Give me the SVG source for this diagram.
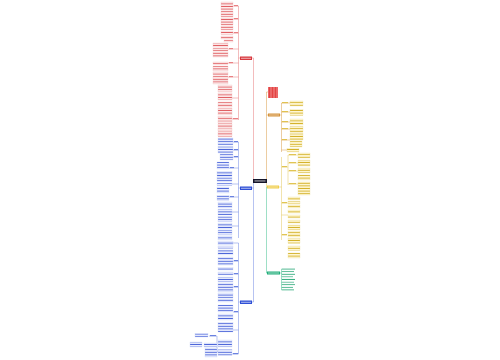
<svg xmlns="http://www.w3.org/2000/svg" width="500" height="360" viewBox="0 0 500 360">
<defs>
<pattern id="pr" width="4" height="2.6" patternUnits="userSpaceOnUse"><rect width="4" height="2.6" fill="#fdeeee"/><rect y="0.8" width="4" height="0.9" fill="#dc4a4f" opacity="0.9"/></pattern>
<pattern id="pb" width="4" height="2.6" patternUnits="userSpaceOnUse"><rect width="4" height="2.6" fill="#eef1ff"/><rect y="0.8" width="4" height="0.9" fill="#3552d4" opacity="0.9"/></pattern>
<pattern id="py" width="4" height="2.6" patternUnits="userSpaceOnUse"><rect width="4" height="2.6" fill="#fff8d6"/><rect y="0.8" width="4" height="0.9" fill="#cfa812" opacity="0.9"/></pattern>
<pattern id="pg" width="4" height="2.6" patternUnits="userSpaceOnUse"><rect width="4" height="2.6" fill="#fff"/><rect y="0.8" width="4" height="0.9" fill="#1fa472" opacity="0.9"/></pattern>
<pattern id="pi" width="3" height="2" patternUnits="userSpaceOnUse"><rect width="3" height="2" fill="#e23b3b"/><rect y="0.7" width="2.2" height="0.6" fill="#ffd0d0"/></pattern>
</defs>
<style>
.r{fill:url(#pr);stroke:#f0bcbe;stroke-width:0.3}
.b{fill:url(#pb);stroke:#c4cef3;stroke-width:0.3}
.y{fill:url(#py);stroke:#ecdc98;stroke-width:0.3}
.g{fill:url(#pg)}
.cr{stroke:#e6787b;stroke-width:0.5;fill:none}
.cb{stroke:#6f86e3;stroke-width:0.5;fill:none}
.cy{stroke:#e2c75a;stroke-width:0.5;fill:none}
.co{stroke:#d99a45;stroke-width:0.5;fill:none}
.cg{stroke:#3cbf8c;stroke-width:0.5;fill:none}
.lr{fill:#e35a5e}
.lb{fill:#3d5ad8}
.ly{fill:#d7b21c}
</style>
<rect width="500" height="360" fill="#fff"/>
<g id="connectors">
<path class="cr" d="M253.5 181V58H252"/>
<path class="cb" d="M253.5 181V302H252M253.5 188H252"/>
<path class="cr" d="M240 58H238.5M238.5 6V120M238.5 6H233M238.5 19H233M238.5 33H233M238.5 49H228M238.5 63H228M238.5 77H228M238.5 98H232M238.5 119H232"/>
<path class="cb" d="M240 188H238.5M238.5 142V238M238.5 142H233M238.5 150H233M238.5 157H233M238.5 168H229M238.5 184H232M238.5 197H229M238.5 212H232M238.5 226H232"/>
<path class="cb" d="M240 302H238.5M238.5 243V354M238.5 243H233M238.5 261H233M238.5 274H233M238.5 287H233M238.5 312H233M238.5 330H233M238.5 354H232M218 352H217M209 336H217V352"/>
<path class="co" d="M266.5 181V92H268M266.5 115H268"/>
<path class="cy" d="M266.5 181V187H267"/>
<path class="cg" d="M266.5 187V273H267"/>
<path class="co" d="M280 115H281.5M281.5 103V152M281.5 103H290M281.5 112H290M281.5 122H290M281.5 129H290M281.5 140H290M281.5 150H287"/>
<path class="cy" d="M279 187H281.5M281.5 157V240M281.5 167H288M288 155H298M288 155V185M288 163H298M288 171H298M288 184H298M281.5 203H288M281.5 235H287M281.5 215H288"/>
<path class="cg" d="M280 273H281.5M281.5 269V290M281.5 269H282M281.5 271.5H282M281.5 274H282M281.5 276.5H282M281.5 279H282M281.5 282.5H282M281.5 285H282M281.5 287.5H282M281.5 290H282"/>
</g>
<g id="root"><rect x="253" y="179" width="14" height="4" fill="#16162a"/><rect x="254.5" y="180.5" width="11" height="0.9" fill="#fff" opacity="0.8"/></g>
<g id="branch-red"><rect x="240" y="56.5" width="12" height="3.5" fill="#d8383e"/><rect x="241" y="57.8" width="10" height="0.9" fill="#fff" opacity="0.7"/></g>
<g id="branch-blue1"><rect x="240" y="186.5" width="12" height="3.5" fill="#2f50d6"/><rect x="241" y="187.8" width="10" height="0.9" fill="#fff" opacity="0.7"/></g>
<g id="branch-blue2"><rect x="240" y="300.5" width="12" height="3.5" fill="#2f50d6"/><rect x="241" y="301.8" width="10" height="0.9" fill="#fff" opacity="0.7"/></g>
<g id="image-node"><rect x="268" y="87" width="10" height="11" fill="url(#pi)"/></g>
<g id="branch-orange"><rect x="268" y="113.5" width="12" height="3" fill="#d4913a"/><rect x="269" y="114.6" width="10" height="0.8" fill="#fff" opacity="0.6"/></g>
<g id="branch-yellow"><rect x="267" y="185.5" width="12" height="3" fill="#f0cd4c"/><rect x="268" y="186.6" width="10" height="0.8" fill="#fff" opacity="0.6"/></g>
<g id="branch-green"><rect x="267" y="271.5" width="13" height="3" fill="#21ad7a"/><rect x="268" y="272.6" width="11" height="0.8" fill="#fff" opacity="0.7"/></g>
<g id="leaves-red">
<rect class="r" x="221" y="2" width="12" height="8"/><rect class="r" x="221" y="11" width="12" height="6"/><rect class="r" x="221" y="18" width="12" height="7"/><rect class="r" x="221" y="26" width="12" height="4"/><rect class="r" x="221" y="31.5" width="12" height="3"/><rect class="r" x="221" y="36" width="12" height="3"/><rect class="r" x="224" y="40" width="9" height="2"/>
<rect class="r" x="213" y="43" width="15" height="4"/><rect class="r" x="213" y="48" width="15" height="3"/><rect class="r" x="213" y="52" width="15" height="5"/><rect class="r" x="213" y="62" width="15" height="2.5"/><rect class="r" x="213" y="66" width="15" height="5"/><rect class="r" x="213" y="72" width="15" height="3"/><rect class="r" x="213" y="76" width="15" height="4.5"/><rect class="r" x="213" y="81" width="15" height="3"/>
<rect class="r" x="218" y="85" width="14" height="7"/><rect class="r" x="218" y="93" width="14" height="7"/><rect class="r" x="218" y="102" width="14" height="5"/><rect class="r" x="218" y="108" width="14" height="7"/><rect class="r" x="218" y="116.5" width="14" height="3"/><rect class="r" x="218" y="120.5" width="14" height="3"/><rect class="r" x="218" y="124.5" width="14" height="3"/><rect class="r" x="218" y="128.5" width="14" height="3"/><rect class="r" x="218" y="132.5" width="14" height="4"/>
<rect class="lr" x="234" y="5.3" width="4" height="0.8"/><rect class="lr" x="234" y="18.3" width="4" height="0.8"/><rect class="lr" x="234" y="32.3" width="4" height="0.8"/><rect class="lr" x="229" y="48.3" width="4" height="0.8"/><rect class="lr" x="229" y="62.3" width="4" height="0.8"/><rect class="lr" x="229" y="76.3" width="4" height="0.8"/><rect class="lr" x="233" y="118.3" width="5" height="0.8"/>
</g>
<g id="leaves-blue">
<rect class="b" x="218" y="138" width="15" height="7"/><rect class="b" x="218" y="146.5" width="15" height="6.5"/><rect class="b" x="220" y="154" width="13" height="6"/><rect class="b" x="217" y="162" width="12" height="7"/><rect class="b" x="217" y="171.5" width="15" height="5"/><rect class="b" x="217" y="177.5" width="15" height="4"/><rect class="b" x="217" y="183" width="15" height="2.5"/><rect class="b" x="217" y="187" width="12" height="6"/><rect class="b" x="217" y="195.5" width="12" height="5"/><rect class="b" x="218" y="202" width="14" height="6"/><rect class="b" x="218" y="209.5" width="14" height="5.5"/><rect class="b" x="218" y="216.5" width="14" height="5.5"/><rect class="b" x="218" y="223.5" width="14" height="5.5"/><rect class="b" x="218" y="230" width="14" height="5"/><rect class="b" x="218" y="236" width="14" height="4"/>
<rect class="b" x="218" y="241.5" width="15" height="3.5"/><rect class="b" x="218" y="246" width="15" height="2.5"/><rect class="b" x="218" y="250" width="15" height="5"/><rect class="b" x="218" y="257" width="15" height="8"/><rect class="b" x="218" y="267.5" width="15" height="2.5"/><rect class="b" x="218" y="272" width="15" height="3"/><rect class="b" x="218" y="277" width="15" height="5"/><rect class="b" x="218" y="283" width="15" height="9"/><rect class="b" x="218" y="293" width="15" height="5"/><rect class="b" x="218" y="299" width="15" height="3"/><rect class="b" x="218" y="305" width="15" height="7"/><rect class="b" x="218" y="314" width="15" height="6"/><rect class="b" x="218" y="322.5" width="15" height="9.5"/><rect class="b" x="218" y="340" width="14" height="7"/><rect class="b" x="218" y="349.5" width="14" height="6"/>
<rect class="b" x="195" y="333.5" width="13" height="3.5"/><rect class="b" x="190" y="342" width="12" height="5"/><rect class="b" x="204" y="343" width="13" height="4"/><rect class="b" x="205" y="348" width="12" height="9"/>
<rect class="lb" x="234" y="141.3" width="4" height="0.8"/><rect class="lb" x="234" y="149.3" width="4" height="0.8"/><rect class="lb" x="234" y="156.3" width="4" height="0.8"/><rect class="lb" x="230" y="167.3" width="4" height="0.8"/><rect class="lb" x="230" y="196.3" width="4" height="0.8"/><rect class="lb" x="234" y="260.3" width="4" height="0.8"/><rect class="lb" x="234" y="273.3" width="4" height="0.8"/><rect class="lb" x="234" y="286.3" width="4" height="0.8"/><rect class="lb" x="234" y="311.3" width="4" height="0.8"/><rect class="lb" x="233" y="353.3" width="5" height="0.8"/><rect class="lb" x="210" y="335.3" width="6" height="0.8"/>
</g>
<g id="leaves-yellow">
<rect class="y" x="290" y="101" width="13" height="5"/><rect class="y" x="290" y="109.5" width="13" height="6"/><rect class="y" x="290" y="119" width="13" height="6"/><rect class="y" x="290" y="126.5" width="13" height="6"/><rect class="y" x="290" y="133.5" width="13" height="6.5"/><rect class="y" x="290" y="141" width="12" height="6"/><rect class="y" x="287" y="148.5" width="12" height="3.5"/>
<rect class="y" x="298" y="153" width="12" height="5"/><rect class="y" x="298" y="160" width="12" height="6"/><rect class="y" x="298" y="168" width="12" height="5"/><rect class="y" x="298" y="175" width="12" height="5"/><rect class="y" x="298" y="182" width="12" height="13"/>
<rect class="y" x="288" y="197" width="12" height="3"/><rect class="y" x="288" y="201.5" width="12" height="2.5"/><rect class="y" x="288" y="205" width="12" height="3"/><rect class="y" x="288" y="210" width="12" height="3"/><rect class="y" x="288" y="215" width="12" height="3"/><rect class="y" x="288" y="220" width="12" height="3"/><rect class="y" x="288" y="225" width="12" height="5"/><rect class="y" x="288" y="231.5" width="12" height="5.5"/><rect class="y" x="288" y="238.5" width="12" height="5"/><rect class="y" x="288" y="246" width="12" height="4.5"/><rect class="y" x="288" y="253" width="12" height="5"/>
<rect class="ly" x="282" y="102.3" width="6" height="0.8"/><rect class="ly" x="282" y="111.3" width="6" height="0.8"/><rect class="ly" x="282" y="121.3" width="6" height="0.8"/><rect class="ly" x="282" y="128.3" width="6" height="0.8"/><rect class="ly" x="282" y="139.3" width="5" height="0.8"/><rect class="ly" x="289" y="154.3" width="7" height="0.8"/><rect class="ly" x="289" y="162.3" width="7" height="0.8"/><rect class="ly" x="289" y="170.3" width="7" height="0.8"/><rect class="ly" x="289" y="183.3" width="7" height="0.8"/><rect class="ly" x="282" y="166.3" width="5" height="0.8"/><rect class="ly" x="282" y="202.3" width="5" height="0.8"/><rect class="ly" x="282" y="234.3" width="5" height="0.8"/>
</g>
<g id="leaves-green">
<rect class="g" x="282" y="268" width="13" height="2"/><rect class="g" x="282" y="270.5" width="12" height="2"/><rect class="g" x="282" y="273" width="13" height="2"/><rect class="g" x="282" y="275.5" width="11" height="2"/><rect class="g" x="282" y="278" width="13" height="2"/><rect class="g" x="282" y="281.5" width="12" height="2"/><rect class="g" x="282" y="284" width="13" height="2"/><rect class="g" x="282" y="286.5" width="11" height="2"/><rect class="g" x="282" y="289" width="12" height="2"/>
</g>
</svg>
